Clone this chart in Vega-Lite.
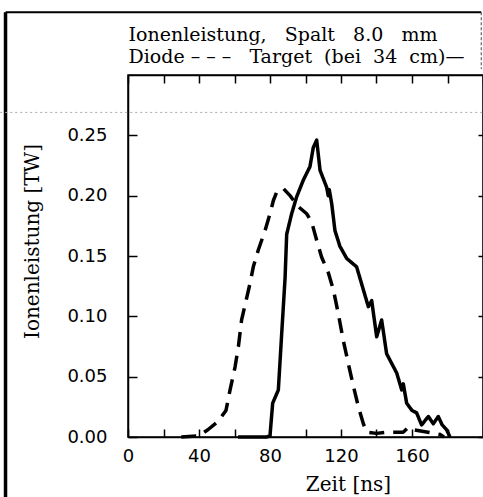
{
  "$schema": "https://vega.github.io/schema/vega-lite/v6.json",
  "width": 355,
  "height": 362,
  "autosize": {"type": "none"},
  "padding": {"left": 128, "top": 75, "right": 0, "bottom": 60},
  "background": "white",
  "config": {"view": {"stroke": "black", "strokeWidth": 1.5}, "font": "DejaVu Sans"},
  "data": {
    "values": [
      {"series": "Target", "t": 62, "p": 0},
      {"series": "Target", "t": 70, "p": 0},
      {"series": "Target", "t": 78, "p": 0},
      {"series": "Target", "t": 80, "p": 0.001},
      {"series": "Target", "t": 81.5, "p": 0.028},
      {"series": "Target", "t": 84.7, "p": 0.039},
      {"series": "Target", "t": 86.6, "p": 0.086},
      {"series": "Target", "t": 88.5, "p": 0.132},
      {"series": "Target", "t": 89.4, "p": 0.168},
      {"series": "Target", "t": 92.2, "p": 0.185},
      {"series": "Target", "t": 95.0, "p": 0.199},
      {"series": "Target", "t": 98.8, "p": 0.213},
      {"series": "Target", "t": 102.5, "p": 0.224},
      {"series": "Target", "t": 104.4, "p": 0.24},
      {"series": "Target", "t": 106.3, "p": 0.246},
      {"series": "Target", "t": 108.2, "p": 0.221},
      {"series": "Target", "t": 111.9, "p": 0.207},
      {"series": "Target", "t": 112.8, "p": 0.2},
      {"series": "Target", "t": 113.4, "p": 0.205},
      {"series": "Target", "t": 114.8, "p": 0.193},
      {"series": "Target", "t": 116.6, "p": 0.171},
      {"series": "Target", "t": 119.4, "p": 0.158},
      {"series": "Target", "t": 123.2, "p": 0.148},
      {"series": "Target", "t": 128.8, "p": 0.141},
      {"series": "Target", "t": 132.6, "p": 0.122},
      {"series": "Target", "t": 135.4, "p": 0.108},
      {"series": "Target", "t": 137.3, "p": 0.113},
      {"series": "Target", "t": 140.1, "p": 0.083},
      {"series": "Target", "t": 142.9, "p": 0.097},
      {"series": "Target", "t": 145.7, "p": 0.069},
      {"series": "Target", "t": 151.4, "p": 0.053},
      {"series": "Target", "t": 154.2, "p": 0.039},
      {"series": "Target", "t": 155.1, "p": 0.044},
      {"series": "Target", "t": 157.0, "p": 0.028},
      {"series": "Target", "t": 160.0, "p": 0.022},
      {"series": "Target", "t": 162.6, "p": 0.02},
      {"series": "Target", "t": 165.4, "p": 0.01},
      {"series": "Target", "t": 169.2, "p": 0.017},
      {"series": "Target", "t": 172.0, "p": 0.011},
      {"series": "Target", "t": 174.8, "p": 0.017},
      {"series": "Target", "t": 177.0, "p": 0.01},
      {"series": "Target", "t": 179.5, "p": 0.006},
      {"series": "Target", "t": 181.4, "p": 0},
      {"series": "Diode", "t": 30, "p": 0},
      {"series": "Diode", "t": 40, "p": 0.001},
      {"series": "Diode", "t": 45, "p": 0.006},
      {"series": "Diode", "t": 50.8, "p": 0.013},
      {"series": "Diode", "t": 55.2, "p": 0.022},
      {"series": "Diode", "t": 57.5, "p": 0.039},
      {"series": "Diode", "t": 60.3, "p": 0.058},
      {"series": "Diode", "t": 62.2, "p": 0.075},
      {"series": "Diode", "t": 64.0, "p": 0.097},
      {"series": "Diode", "t": 66.5, "p": 0.113},
      {"series": "Diode", "t": 68.7, "p": 0.127},
      {"series": "Diode", "t": 70.6, "p": 0.141},
      {"series": "Diode", "t": 73.4, "p": 0.155},
      {"series": "Diode", "t": 77.2, "p": 0.171},
      {"series": "Diode", "t": 80.0, "p": 0.185},
      {"series": "Diode", "t": 81.9, "p": 0.196},
      {"series": "Diode", "t": 83.8, "p": 0.203},
      {"series": "Diode", "t": 87.5, "p": 0.206},
      {"series": "Diode", "t": 91.3, "p": 0.2},
      {"series": "Diode", "t": 95.9, "p": 0.191},
      {"series": "Diode", "t": 100.7, "p": 0.185},
      {"series": "Diode", "t": 103.5, "p": 0.178},
      {"series": "Diode", "t": 106.3, "p": 0.163},
      {"series": "Diode", "t": 109.1, "p": 0.149},
      {"series": "Diode", "t": 112.9, "p": 0.136},
      {"series": "Diode", "t": 115.7, "p": 0.122},
      {"series": "Diode", "t": 118.5, "p": 0.102},
      {"series": "Diode", "t": 121.3, "p": 0.08},
      {"series": "Diode", "t": 124.1, "p": 0.061},
      {"series": "Diode", "t": 127.0, "p": 0.042},
      {"series": "Diode", "t": 129.8, "p": 0.025},
      {"series": "Diode", "t": 132.6, "p": 0.011},
      {"series": "Diode", "t": 134.5, "p": 0.004},
      {"series": "Diode", "t": 140, "p": 0.003},
      {"series": "Diode", "t": 146, "p": 0.004},
      {"series": "Diode", "t": 155, "p": 0.004},
      {"series": "Diode", "t": 158, "p": 0.008},
      {"series": "Diode", "t": 161, "p": 0.006},
      {"series": "Diode", "t": 169, "p": 0.004},
      {"series": "Diode", "t": 176, "p": 0.002},
      {"series": "Diode", "t": 178, "p": 0}
    ]
  },
  "layer": [
    {
      "mark": {"type": "line", "strokeWidth": 3.5, "color": "black", "strokeCap": "butt", "strokeJoin": "round"},
      "encoding": {
        "x": {
          "field": "t", "type": "quantitative",
          "scale": {"domain": [0, 200], "nice": false, "zero": false},
          "axis": {
            "orient": "bottom", "values": [0, 20, 40, 60, 80, 100, 120, 140, 160, 180, 200],
            "labelExpr": "(datum.value % 40 === 0 && datum.value < 200) ? datum.label : ''",
            "grid": false, "domainColor": "black", "domainWidth": 1.5,
            "tickColor": "black", "tickWidth": 1.5, "tickSize": -8,
            "labelFont": "DejaVu Sans", "labelFontSize": 18, "labelColor": "black", "labelPadding": 18,
            "labelFlush": false,
            "title": "Zeit [ns]", "titleFont": "DejaVu Serif", "titleFontSize": 20, "titleFontWeight": "normal",
            "titleColor": "black", "titleX": 220, "titlePadding": 9
          }
        },
        "y": {
          "field": "p", "type": "quantitative",
          "scale": {"domain": [0, 0.3], "nice": false, "zero": false},
          "axis": {
            "orient": "left", "values": [0, 0.05, 0.1, 0.15, 0.2, 0.25], "format": ".2f",
            "grid": false, "domainColor": "black", "domainWidth": 1.5,
            "tickColor": "black", "tickWidth": 1.5, "tickSize": -9,
            "labelFont": "DejaVu Sans", "labelFontSize": 18, "labelColor": "black", "labelPadding": 30,
            "title": "Ionenleistung [TW]", "titleFont": "DejaVu Serif", "titleFontSize": 20, "titleFontWeight": "normal",
            "titleColor": "black", "titleY": 166, "titlePadding": 24
          }
        },
        "strokeDash": {
          "field": "series", "type": "nominal",
          "scale": {"domain": ["Diode", "Target"], "range": [[15, 9], [1, 0]]},
          "legend": null
        }
      }
    },
    {
      "mark": {"type": "point", "opacity": 0},
      "encoding": {
        "x": {
          "field": "t", "type": "quantitative",
          "axis": {
            "orient": "top", "values": [0, 20, 40, 60, 80, 100, 120, 140, 160, 180, 200],
            "labels": false, "grid": false, "domainColor": "black", "domainWidth": 1.5,
            "tickColor": "black", "tickWidth": 1.5, "tickSize": -8,
            "title": ["Ionenleistung, \u00a0\u00a0Spalt \u00a0\u00a08.0 \u00a0\u00a0mm", "Diode – – – \u00a0\u00a0Target \u00a0(bei \u00a034 \u00a0cm)—"],
            "titleFont": "DejaVu Serif", "titleFontSize": 19, "titleFontWeight": "normal", "titleColor": "black",
            "titleAlign": "left", "titleAnchor": "start", "titleX": 0, "titleY": -35,
            "titleBaseline": "alphabetic", "titleLineHeight": 22
          }
        },
        "y": {
          "field": "p", "type": "quantitative",
          "axis": {
            "orient": "right", "values": [0, 0.05, 0.1, 0.15, 0.2, 0.25],
            "labels": false, "title": null, "grid": false, "domainColor": "black", "domainWidth": 1.5,
            "tickColor": "black", "tickWidth": 1.5, "tickSize": -5
          }
        }
      }
    },
    {
      "data": {"values": [{}]},
      "mark": {"type": "rule", "strokeWidth": 3.5, "color": "black"},
      "encoding": {
        "x": {"datum": -69, "type": "quantitative", "axis": null},
        "y": {"datum": -0.06, "type": "quantitative", "axis": null},
        "y2": {"datum": 0.352}
      }
    },
    {
      "data": {"values": [{}]},
      "mark": {"type": "rule", "strokeWidth": 2, "color": "black"},
      "encoding": {
        "x": {"datum": -69, "type": "quantitative", "axis": null},
        "x2": {"datum": 199},
        "y": {"datum": 0.352, "type": "quantitative", "axis": null}
      }
    },
    {
      "data": {"values": [{}]},
      "mark": {"type": "rule", "strokeWidth": 1, "color": "#444", "strokeDash": [3, 2]},
      "encoding": {
        "x": {"datum": 199, "type": "quantitative", "axis": null},
        "y": {"datum": 0.352, "type": "quantitative", "axis": null},
        "y2": {"datum": 0.305}
      }
    },
    {
      "data": {"values": [{}]},
      "mark": {"type": "rule", "strokeWidth": 1, "color": "#aaa", "strokeDash": [2, 3]},
      "encoding": {
        "x": {"datum": -72, "type": "quantitative", "axis": null},
        "x2": {"datum": 200},
        "y": {"datum": 0.269, "type": "quantitative", "axis": null}
      }
    }
  ],
  "resolve": {"axis": {"x": "independent", "y": "independent"}}
}
